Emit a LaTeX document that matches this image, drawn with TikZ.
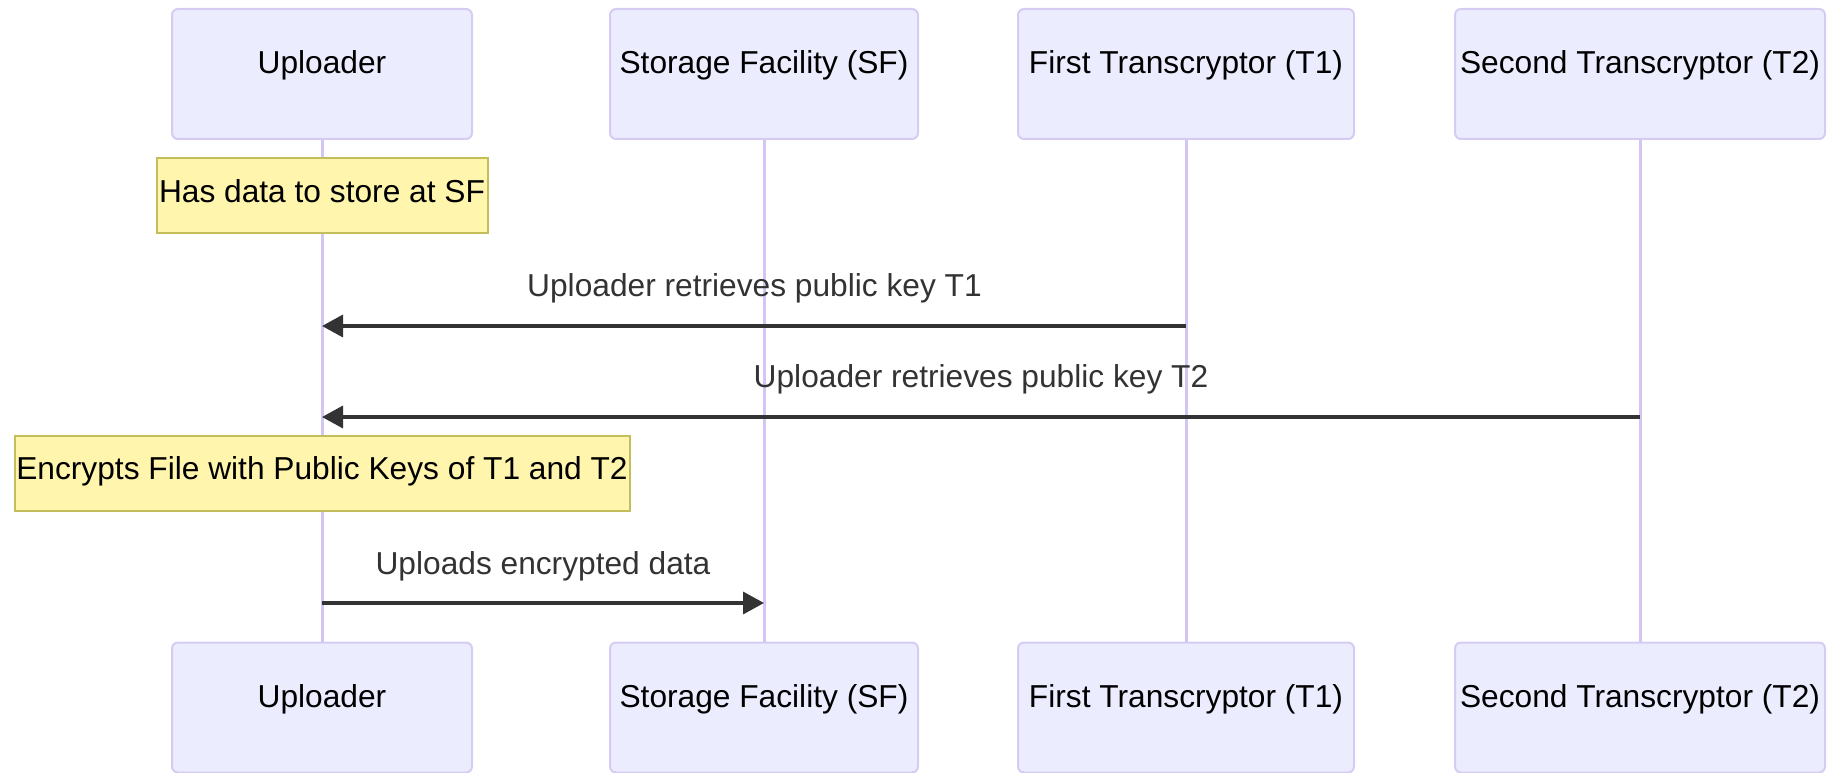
\documentclass[tikz,border=0pt]{standalone}
\usepackage{fontspec}
\setmainfont{Liberation Sans}
\usetikzlibrary{arrows.meta}

\definecolor{actorfill}{HTML}{ECECFF}
\definecolor{actorline}{HTML}{D6CCF3}
\definecolor{lifecolor}{HTML}{D3C6F4}
\definecolor{notefill}{HTML}{FFF5AD}
\definecolor{noteline}{HTML}{C2BE5C}
\definecolor{msgcolor}{HTML}{333333}

\newcommand{\diagfont}{\fontsize{31.7}{38}\selectfont}

\begin{document}
\begin{tikzpicture}[x=1pt,y=-1pt,
  actor/.style={draw=actorline, fill=actorfill, line width=2pt,
    rounded corners=6pt, minimum height=130pt, inner sep=0pt,
    text height=11pt, text depth=12pt, font=\diagfont, text=black},
  lifeline/.style={draw=lifecolor, line width=3pt},
  note/.style={draw=noteline, fill=notefill, line width=2pt,
    minimum height=75pt, inner xsep=1pt, inner ysep=0pt,
    text height=35pt, text depth=22pt, font=\diagfont, text=black},
  msgarrow/.style={draw=msgcolor, line width=3.5pt,
    -{Triangle[length=21pt,width=22pt]}},
  msglabel/.style={anchor=base, inner sep=0pt, font=\diagfont, text=msgcolor}]

  % page area
  \useasboundingbox (0,0) rectangle (1831,773);

  % participants, top row
  \node[actor, minimum width=300pt] (uptop) at (322,74) {Uploader};
  \node[actor, minimum width=308pt] (sftop) at (764,74) {Storage Facility (SF)};
  \node[actor, minimum width=336pt] (t1top) at (1186,74) {First Transcryptor (T1)};
  \node[actor, minimum width=370pt] (t2top) at (1640,74) {Second Transcryptor (T2)};

  % participants, bottom row
  \node[actor, minimum width=300pt] (upbot) at (322,707.5) {Uploader};
  \node[actor, minimum width=308pt] (sfbot) at (764,707.5) {Storage Facility (SF)};
  \node[actor, minimum width=336pt] (t1bot) at (1186,707.5) {First Transcryptor (T1)};
  \node[actor, minimum width=370pt] (t2bot) at (1640,707.5) {Second Transcryptor (T2)};

  % lifelines
  \draw[lifeline] (uptop.south) -- (upbot.north);
  \draw[lifeline] (sftop.south) -- (sfbot.north);
  \draw[lifeline] (t1top.south) -- (t1bot.north);
  \draw[lifeline] (t2top.south) -- (t2bot.north);

  % notes over the uploader
  \node[note, minimum width=331pt] (n1) at (322,195.5) {Has data to store at SF};
  \node[note, minimum width=615pt] (n2) at (322,473) {Encrypts File with Public Keys of T1 and T2};

  % messages
  \draw[msgarrow] (t1top.south |- 0,326) -- (uptop.south |- 0,326);
  \node[msglabel] (m1) at (754.5,296) {Uploader retrieves public key T1};

  \draw[msgarrow] (t2top.south |- 0,417) -- (uptop.south |- 0,417);
  \node[msglabel] (m2) at (981,387) {Uploader retrieves public key T2};

  \draw[msgarrow] (uptop.south |- 0,603) -- (sftop.south |- 0,603);
  \node[msglabel] (m3) at (543,574) {Uploads encrypted data};
\end{tikzpicture}
\end{document}
